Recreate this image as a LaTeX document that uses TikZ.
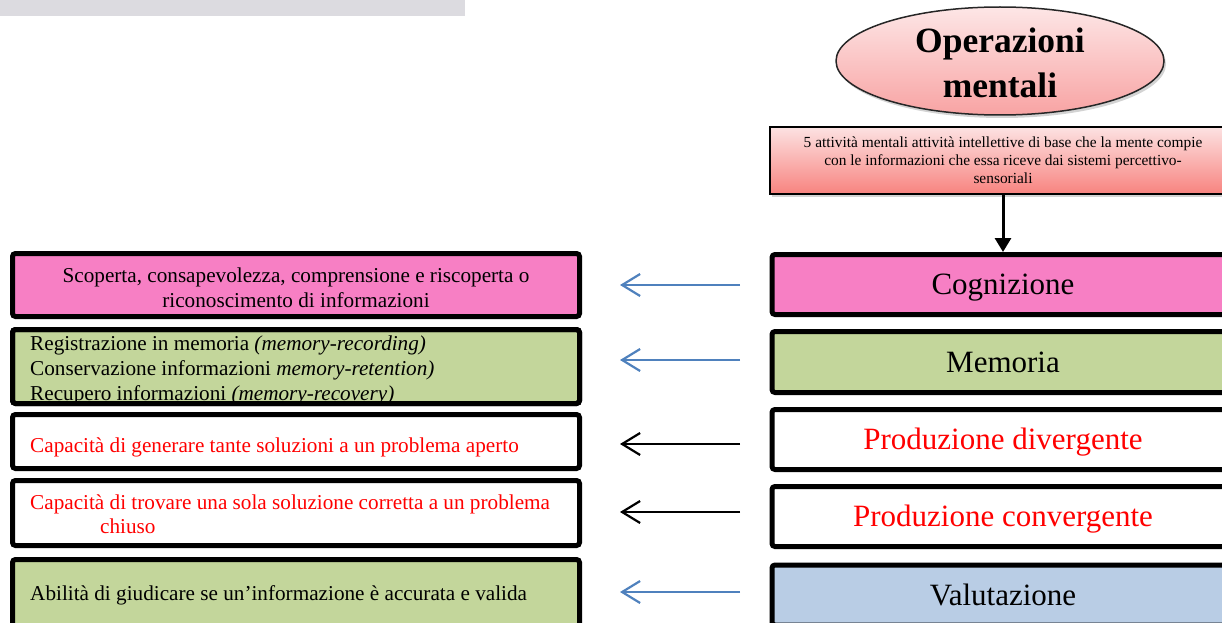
\documentclass[tikz,border=0pt]{standalone}
\usepackage{fontspec}
\setmainfont{Liberation Serif}
\usetikzlibrary{shapes.geometric,arrows.meta,shadows}
\definecolor{barcol}{HTML}{DCDBE0}
\definecolor{cogcol}{HTML}{F77FC4}
\definecolor{memcol}{HTML}{C3D69B}
\definecolor{valcol}{HTML}{B9CDE5}
\definecolor{arrblue}{HTML}{4F81BD}
\definecolor{txtred}{HTML}{FF0000}
\definecolor{elltop}{HTML}{FDE6E6}
\definecolor{ellbot}{HTML}{F8A3A3}
\definecolor{boxtop}{HTML}{FCE2E2}
\definecolor{boxbot}{HTML}{F8837F}
\tikzset{
  mainbox/.style={draw=black, line width=5pt, rounded corners=3pt, inner sep=0pt,
    minimum width=462pt, text height=20.5pt, text depth=0pt, font=\fontsize{31}{36}\selectfont},
  leftbox/.style={draw=black, line width=5pt, rounded corners=3pt, inner sep=0pt, outer sep=0pt,
    minimum width=567pt},
  lefttext/.style={inner sep=0pt, font=\fontsize{21.2}{25}\selectfont},
  barrow/.style={draw=arrblue, line width=2.2pt, -{Straight Barb[length=18pt,width=22pt]}},
  karrow/.style={draw=black, line width=2.2pt, -{Straight Barb[length=18pt,width=22pt]}},
  downarrow/.style={draw=black, line width=3pt, -{Triangle[length=14pt,width=16pt]}},
  softshadow/.style={drop shadow={opacity=0.35, shadow xshift=2pt, shadow yshift=-3pt}}
}
\begin{document}
\begin{tikzpicture}[x=1pt,y=-1pt]
\useasboundingbox (0,0) rectangle (1222,623);
% top grey bar
\node[fill=barcol, minimum width=465pt, minimum height=16pt, inner sep=0pt, anchor=north west] (bar) at (0,0) {};
% ellipse
\node[ellipse, draw=black!85, line width=1.5pt, top color=elltop, bottom color=ellbot,
  minimum width=328pt, minimum height=108pt, inner sep=0pt, softshadow] (ell) at (1000,61) {};
\node[anchor=base, inner sep=0pt, align=center, font=\bfseries\fontsize{35.5}{45}\selectfont] (ellt) at (1000,98) {Operazioni\\mentali};
% description box
\node[draw=black, line width=1.5pt, top color=boxtop, bottom color=boxbot, softshadow,
  minimum width=466pt, minimum height=67pt, inner sep=0pt] (desc) at (1003,160.5) {};
\node[anchor=base, inner sep=0pt, align=center, font=\fontsize{15.4}{18}\selectfont] (desct) at (1003,183)
  {5 attività mentali attività intellettive di base che la mente compie\\con le informazioni che essa riceve dai sistemi percettivo-\\sensoriali};
% right boxes
\node[mainbox, fill=cogcol, minimum height=60pt] (cog) at (1003,284.5) {Cognizione};
\node[mainbox, fill=memcol, minimum height=61pt] (mem) at (1003,362) {Memoria};
\node[mainbox, fill=white, minimum height=60pt, text=txtred] (div) at (1003,439.5) {Produzione divergente};
\node[mainbox, fill=white, minimum height=60pt, text=txtred] (conv) at (1003,516.5) {Produzione convergente};
\node[mainbox, fill=valcol, minimum height=60pt] (val) at (1003,595) {Valutazione};
% left boxes
\node[leftbox, fill=cogcol, minimum height=63pt] (l1) at (296,285) {};
\node[lefttext, anchor=base, align=center] (l1t) at (296,307)
  {Scoperta, consapevolezza, comprensione e riscoperta o\\riconoscimento di informazioni};
\node[leftbox, fill=memcol, minimum height=74pt] (l2) at (296,366.5) {};
\node[lefttext, anchor=base west, align=left] (l2t) at (30,400)
  {Registrazione in memoria \textit{(memory-recording)}\\
   Conservazione informazioni \textit{memory-retention)}\\
   Recupero informazioni \textit{(memory-recovery)}};
\draw[line width=5pt, rounded corners=3pt] (l2.north west) rectangle (l2.south east);
\node[leftbox, fill=white, minimum height=54pt] (l3) at (296,441.5) {};
\node[lefttext, anchor=base west, text=txtred] (l3t) at (30,452)
  {Capacità di generare tante soluzioni a un problema aperto};
\node[leftbox, fill=white, minimum height=65pt] (l4) at (296,513) {};
\node[lefttext, anchor=base west, align=left, text=txtred, font=\fontsize{21.2}{24}\selectfont] (l4t) at (30,533)
  {Capacità di trovare una sola soluzione corretta a un problema\\\hspace*{70pt}chiuso};
\node[leftbox, fill=memcol, minimum height=68pt] (l5) at (296,593.5) {};
\node[lefttext, anchor=base west] (l5t) at (30,600)
  {Abilità di giudicare se un’informazione è accurata e valida};
% arrow down
\draw[downarrow] (desc.south) -- (cog.north);
% horizontal arrows
\coordinate (s1) at (740,285); \coordinate (e1) at (620,285);
\coordinate (s2) at (740,360); \coordinate (e2) at (620,360);
\coordinate (s3) at (740,444); \coordinate (e3) at (620,444);
\coordinate (s4) at (740,512); \coordinate (e4) at (620,512);
\coordinate (s5) at (740,592); \coordinate (e5) at (620,592);
\draw[barrow] (s1) -- (e1);
\draw[barrow] (s2) -- (e2);
\draw[karrow] (s3) -- (e3);
\draw[karrow] (s4) -- (e4);
\draw[barrow] (s5) -- (e5);
\end{tikzpicture}
\end{document}
